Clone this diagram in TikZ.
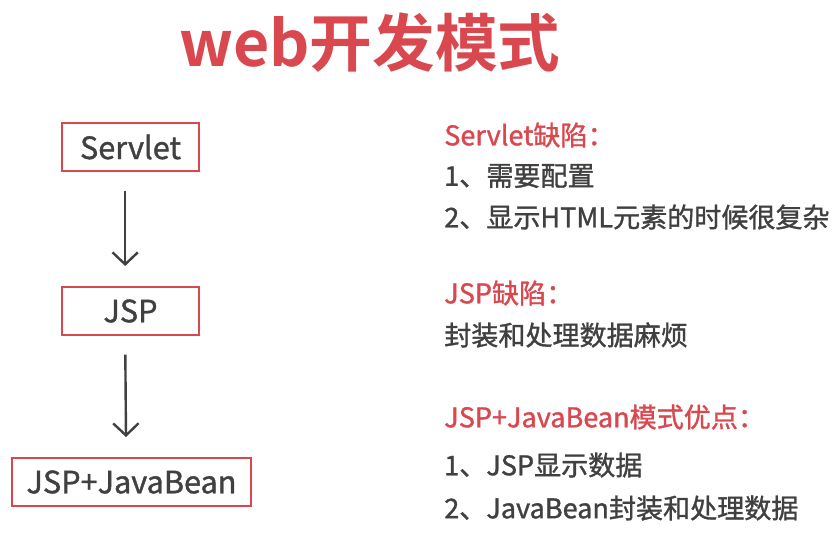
\documentclass[tikz,border=0pt]{standalone}
\usepackage{fontspec}
\setmainfont{Noto Sans CJK SC}
\newfontfamily\medfont{Noto Sans CJK SC}[RawFeature={embolden=1.2}]
\newfontfamily\titlefont{Noto Sans CJK SC Bold}
\usetikzlibrary{arrows.meta}
\definecolor{accent}{HTML}{D9474F}
\definecolor{ink}{HTML}{404040}
\tikzset{
  box/.style={draw=accent, line width=1.5pt, text=ink, font=\medfont\fontsize{23}{26}\selectfont,
    minimum height=36pt, inner sep=0pt},
  flow/.style={draw=ink, line width=1.8pt, -{Straight Barb[length=9pt,width=19pt,line width=1.8pt]},
    shorten <=14pt, shorten >=15pt},
  head/.style={anchor=west, text=accent, font=\medfont\fontsize{20.3}{24}\selectfont, inner sep=0pt},
  item/.style={anchor=west, text=ink, font=\medfont\fontsize{20.3}{24}\selectfont, inner sep=0pt},
}
\begin{document}
\begin{tikzpicture}[x=0.75pt, y=-0.75pt]
\useasboundingbox (0,0) rectangle (837,537);
\node[text=accent, font=\titlefont\fontsize{47}{52}\selectfont, inner sep=0pt] (title) at (370,43) {web开发模式};
\node[box, minimum width=102.75pt] (s) at (130.5,147) {Servlet};
\node[box, minimum width=102.75pt] (j) at (130.5,311) {JSP};
\node[box, minimum width=179pt] (jb) at (131.5,482) {JSP+JavaBean};
\draw[flow] ([xshift=-4pt]s.south) -- ([xshift=-4pt]j.north);
\draw[flow] ([xshift=-4pt]j.south) -- ([xshift=-4pt]jb.north |- jb.north);
\node[head] (h1) at (444,135) {Servlet缺陷：};
\node[item] (i11) at (444,176) {1、需要配置};
\node[item] (i12) at (444,217) {2、显示HTML元素的时候很复杂};
\node[head] (h2) at (444,293) {JSP缺陷：};
\node[item] (i21) at (444,335) {封装和处理数据麻烦};
\node[head] (h3) at (444,417) {JSP+JavaBean模式优点：};
\node[item] (i31) at (444,465) {1、JSP显示数据};
\node[item] (i32) at (444,508) {2、JavaBean封装和处理数据};
\end{tikzpicture}
\end{document}
